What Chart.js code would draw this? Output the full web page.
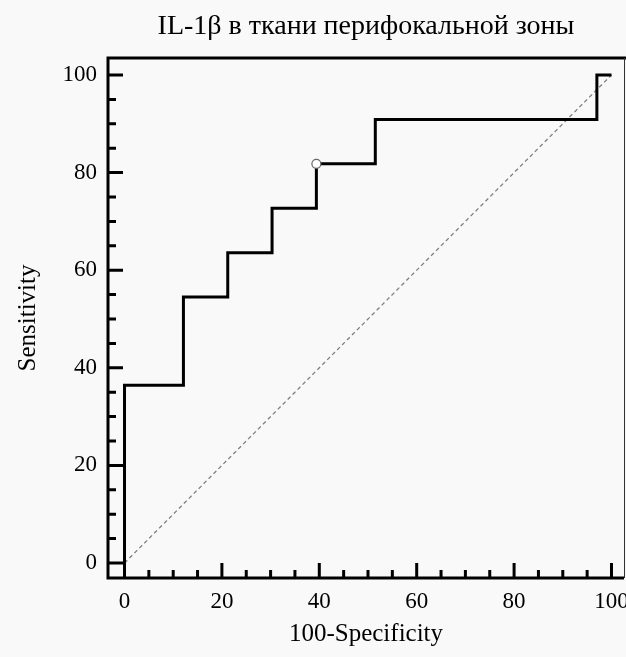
<!DOCTYPE html>
<html>
<head>
<meta charset="utf-8">
<script src="https://cdn.jsdelivr.net/npm/chart.js@4"></script>
<style>
  html, body { margin: 0; padding: 0; background: #f9f9f9; }
  #wrap { width: 626px; height: 657px; }
</style>
</head>
<body>
<div id="wrap"><canvas id="rocChart" width="626" height="657"></canvas></div>
<script>
// ROC curve points (100-specificity, sensitivity)
const falsePos = [0, 0, 12.1, 21.2, 30.3, 39.4, 51.5, 97, 100];
const sensitivity = [0, 36.4, 54.5, 63.6, 72.7, 81.8, 90.9, 100, 100];
// criterion point marked with the open circle
const cutoffX = [39.4];
const cutoffY = [81.8];
// reference diagonal
const diagonal = [0, 100];
const xTicks = [0, 20, 40, 60, 80, 100];
const yTicks = [0, 20, 40, 60, 80, 100];

const serif = '"Liberation Serif", "Times New Roman", serif';
const ink = '#000';

const axisFrame = {
    id: 'axisFrame',
    beforeDraw(chart) {
        const ctx = chart.ctx;
        ctx.save();
        ctx.fillStyle = '#f9f9f9';
        ctx.fillRect(0, 0, chart.width, chart.height);
        ctx.restore();
    },
    afterDatasetsDraw(chart) {
        const { ctx, chartArea: a, scales: { x, y } } = chart;
        ctx.save();
        ctx.strokeStyle = '#000';
        ctx.lineWidth = 3;
        ctx.lineCap = 'butt';
        ctx.beginPath();
        // inward ticks, major every 20, minor every 5
        for (let v = 0; v <= 100; v += 5) {
            const len = v % 20 === 0 ? 15 : 8;
            const px = x.getPixelForValue(v);
            ctx.moveTo(px, a.bottom);
            ctx.lineTo(px, a.bottom - len);
            const py = y.getPixelForValue(v);
            ctx.moveTo(a.left, py);
            ctx.lineTo(a.left + len, py);
        }
        // left, bottom and top frame lines
        ctx.moveTo(chart.width, a.top);
        ctx.lineTo(a.left, a.top);
        ctx.lineTo(a.left, a.bottom);
        ctx.lineTo(a.right, a.bottom);
        ctx.stroke();
        // thin right edge
        ctx.lineWidth = 1;
        ctx.strokeStyle = '#333';
        ctx.beginPath();
        ctx.moveTo(a.right + 0.5, a.top);
        ctx.lineTo(a.right + 0.5, a.bottom);
        ctx.stroke();
        ctx.restore();
    }
};

const ctx = document.getElementById('rocChart').getContext('2d');
const chart = new Chart(ctx, {
    type: 'scatter',
    data: {
        datasets: [
            {
                label: 'cutoff',
                data: cutoffX.map((v, i) => ({ x: v, y: cutoffY[i] })),
                showLine: false,
                pointRadius: 4.5,
                pointBackgroundColor: '#fff',
                pointBorderColor: '#666',
                pointBorderWidth: 1.2
            },
            {
                label: 'ROC',
                data: falsePos.map((v, i) => ({ x: v, y: sensitivity[i] })),
                showLine: true,
                stepped: true,
                borderColor: '#000',
                borderWidth: 3,
                borderJoinStyle: 'miter',
                pointRadius: 0,
                fill: false
            },
            {
                label: 'diagonal',
                data: diagonal.map(v => ({ x: v, y: v })),
                showLine: true,
                borderColor: '#808080',
                borderWidth: 1.3,
                borderDash: [4, 3],
                pointRadius: 0,
                fill: false
            }
        ]
    },
    options: {
        responsive: false,
        animation: false,
        layout: { padding: 0, autoPadding: false },
        plugins: {
            legend: { display: false },
            tooltip: { enabled: false },
            title: {
                display: true,
                fullSize: false,
                text: 'IL-1β в ткани перифокальной зоны',
                color: ink,
                font: { family: serif, size: 28, weight: 'normal' },
                padding: { top: 10.2, bottom: 14.2 }
            }
        },
        scales: {
            x: {
                type: 'linear',
                min: -3.39,
                max: 102.57,
                afterBuildTicks: s => { s.ticks = xTicks.map(v => ({ value: v })); },
                afterFit: s => { s.height = 79; s.paddingLeft = 0; s.paddingRight = 2; },
                grid: { display: false, drawTicks: false },
                border: { display: false },
                ticks: {
                    color: ink,
                    font: { family: serif, size: 23 },
                    padding: 10,
                    maxRotation: 0,
                    autoSkip: false
                },
                title: {
                    display: true,
                    text: '100-Specificity',
                    color: ink,
                    font: { family: serif, size: 25 },
                    padding: { top: 0, bottom: 8 }
                }
            },
            y: {
                type: 'linear',
                min: -3.07,
                max: 103.48,
                afterBuildTicks: s => { s.ticks = yTicks.map(v => ({ value: v })); },
                afterFit: s => { s.width = 108; s.paddingTop = 0; s.paddingBottom = 0; },
                grid: { display: false, drawTicks: false },
                border: { display: false },
                ticks: {
                    color: ink,
                    font: { family: serif, size: 23 },
                    padding: 11,
                    autoSkip: false
                },
                title: {
                    display: true,
                    text: 'Sensitivity',
                    color: ink,
                    font: { family: serif, size: 25 },
                    padding: { top: 13.5, bottom: 0 }
                }
            }
        }
    },
    plugins: [axisFrame]
});
</script>
</body>
</html>
